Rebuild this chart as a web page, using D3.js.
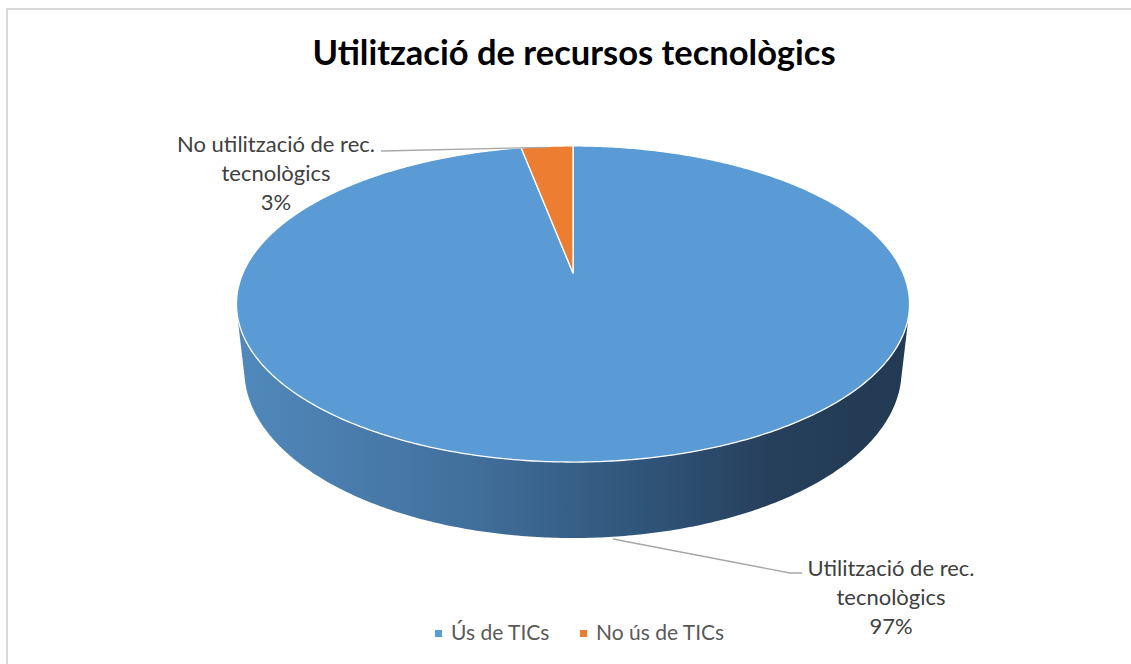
<!DOCTYPE html>
<html>
<head>
<meta charset="utf-8">
<script src="https://cdn.jsdelivr.net/npm/d3@7"></script>
<style>
  html, body { margin: 0; padding: 0; background: #ffffff; }
  svg { display: block; }
</style>
</head>
<body>
<svg id="chart" width="1131" height="664"></svg>
<script>
// ---- data ----
const title = "Utilització de recursos tecnològics";
const legendLabels = ["Ús de TICs", "No ús de TICs"];
const sliceLabels = [["Utilització de rec.", "tecnològics"], ["No utilització de rec.", "tecnològics"]];
const values = [97, 3];
const colors = ["#5b9bd5", "#ed7d31"];

// ---- layout ----
const W = 1131, H = 664;
const svg = d3.select("#chart");
const FONT = "Lato, 'Open Sans', sans-serif";

// chart frame
svg.append("rect").attr("x", 7).attr("y", 9).attr("width", W + 20).attr("height", H + 20)
  .attr("fill", "#fff").attr("stroke", "#d9d9d9").attr("stroke-width", 2);

// title
svg.append("text").attr("x", 574).attr("y", 65).attr("text-anchor", "middle")
  .attr("font-family", FONT).attr("font-weight", "bold").attr("font-size", 34.5)
  .attr("fill", "#000").text(title);

// ---- perspective projection of the 3D pie ----
const cx = 573, cy = 273;
const sinT = 0.4606, cosT = Math.sqrt(1 - sinT * sinT);
const D = 4.53, f = 1495, h = 0.2296;
function project(t, z) {
  const x = Math.sin(t), y = -Math.cos(t);
  const depth = D - (y * cosT + z * sinT);
  return [cx + f * x / depth, cy + f * (y * sinT - z * cosT) / depth];
}
function apex(z) {
  const depth = D - z * sinT;
  return [cx, cy + f * (-z * cosT) / depth];
}

const pie = d3.pie().sort(null).value(d => d).startAngle(0).endAngle(2 * Math.PI);
const arcs = pie(values);
const line = d3.line();

function arcPoints(a0, a1, z) {
  const n = Math.max(2, Math.ceil((a1 - a0) / 0.01));
  const pts = [];
  for (let i = 0; i <= n; i++) pts.push(project(a0 + (a1 - a0) * i / n, z));
  return pts;
}

// gradient for the side wall
const defs = svg.append("defs");
const grad = defs.append("linearGradient").attr("id", "wall").attr("x1", 0).attr("x2", 1).attr("y1", 0).attr("y2", 0);
[["0%", "#5189bc"], ["35%", "#416f9b"], ["60%", "#30557a"], ["80%", "#263f5b"], ["100%", "#223a53"]]
  .forEach(s => grad.append("stop").attr("offset", s[0]).attr("stop-color", s[1]));

// visible part of the outer wall
const cosLim = -1 / (D * cosT);
const visA0 = Math.acos(cosLim), visA1 = 2 * Math.PI - visA0;
const walls = svg.append("g");
arcs.forEach((d, i) => {
  const a0 = Math.max(d.startAngle, visA0), a1 = Math.min(d.endAngle, visA1);
  if (a1 <= a0) return;
  const top = arcPoints(a0, a1, 0);
  const bot = arcPoints(a0, a1, -h).reverse();
  walls.append("path").attr("d", line(top.concat(bot)) + "Z")
    .attr("fill", i === 0 ? "url(#wall)" : d3.color(colors[i]).darker(1))
    .attr("stroke", "none");
});

// top faces
const tops = svg.append("g");
arcs.forEach((d, i) => {
  const pts = [apex(0)].concat(arcPoints(d.startAngle, d.endAngle, 0));
  tops.append("path").attr("d", line(pts) + "Z")
    .attr("fill", colors[i]).attr("stroke", "#ffffff").attr("stroke-width", 1.3)
    .attr("stroke-linejoin", "round");
});

// ---- data labels ----
const labelG = svg.append("g").attr("font-family", FONT).attr("font-size", 22).attr("fill", "#404040");
// small slice label (top-left)
const p1 = project((arcs[1].startAngle + arcs[1].endAngle) / 2, 0);
labelG.append("path").attr("d", line([[381, 151], [p1[0], p1[1] + 1]]))
  .attr("stroke", "#a6a6a6").attr("stroke-width", 1.3).attr("fill", "none");
const l1 = labelG.append("text").attr("text-anchor", "middle");
sliceLabels[1].concat([values[1] + "%"]).forEach((s, k) =>
  l1.append("tspan").attr("x", 276).attr("y", 152 + k * 29).text(s));

// large slice label (bottom-right)
labelG.append("path").attr("d", line([[613, 539], [790, 573], [802, 573]]))
  .attr("stroke", "#a6a6a6").attr("stroke-width", 1.3).attr("fill", "none");
const l0 = labelG.append("text").attr("text-anchor", "middle");
sliceLabels[0].concat([values[0] + "%"]).forEach((s, k) =>
  l0.append("tspan").attr("x", 891).attr("y", 576 + k * 29).text(s));

// ---- legend ----
const legend = svg.append("g").attr("font-family", FONT).attr("font-size", 21).attr("fill", "#595959");
const legendX = [435, 580];
legendLabels.forEach((s, i) => {
  legend.append("rect").attr("x", legendX[i]).attr("y", 630).attr("width", 7).attr("height", 7).attr("fill", colors[i]);
  legend.append("text").attr("x", legendX[i] + 16).attr("y", 640).text(s);
});
</script>
</body>
</html>
